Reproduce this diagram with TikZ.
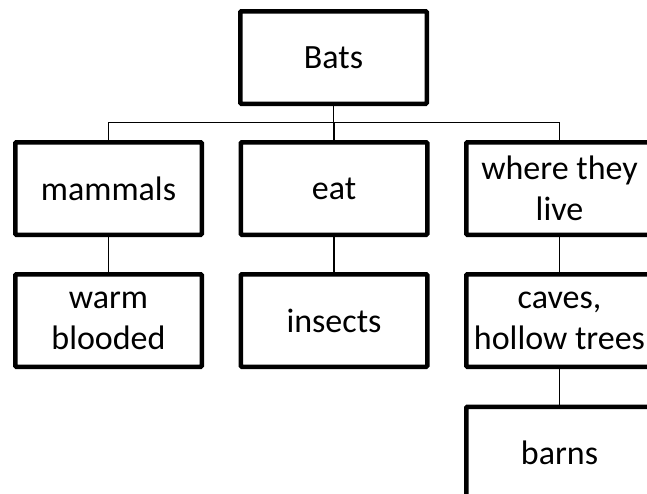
\documentclass[tikz,border=0pt]{standalone}
\usepackage{fontspec}
\setmainfont{Carlito}
\begin{document}
\begin{tikzpicture}[x=1pt,y=-1pt,
  box/.style={draw=black, line width=4.5pt, minimum width=186.5pt, minimum height=92.5pt,
    inner sep=0pt, align=center, font=\fontsize{34}{41}\selectfont, rounded corners=1pt},
  conn/.style={draw=black, line width=1.5pt}]
\useasboundingbox (0,0) rectangle (647,493);
\clip (0,0) rectangle (647,493);
\node[box] (bats) at (333.5,57.5) {Bats};
\node[box] (mammals) at (108.5,188.5) {mammals};
\node[box] (eat) at (334,188.5) {eat};
\node[box] (where) at (559.5,188.5) {where they\\live};
\node[box] (warm) at (108.5,320.5) {warm\\blooded};
\node[box] (insects) at (334,320.5) {insects};
\node[box] (caves) at (559.5,320.5) {caves,\\hollow trees};
\node[box] (barns) at (559.5,453) {barns};
\coordinate (bus) at (334,122.7);
\draw[conn] (bats.south) -- (bats.south |- bus);
\draw[conn] (mammals.north) -- (mammals.north |- bus) -- (where.north |- bus) -- (where.north);
\draw[conn] (eat.north) -- (eat.north |- bus);
\draw[conn] (mammals.south) -- (warm.north);
\draw[conn] (eat.south) -- (insects.north);
\draw[conn] (where.south) -- (caves.north);
\draw[conn] (caves.south) -- (barns.north);
\end{tikzpicture}
\end{document}
